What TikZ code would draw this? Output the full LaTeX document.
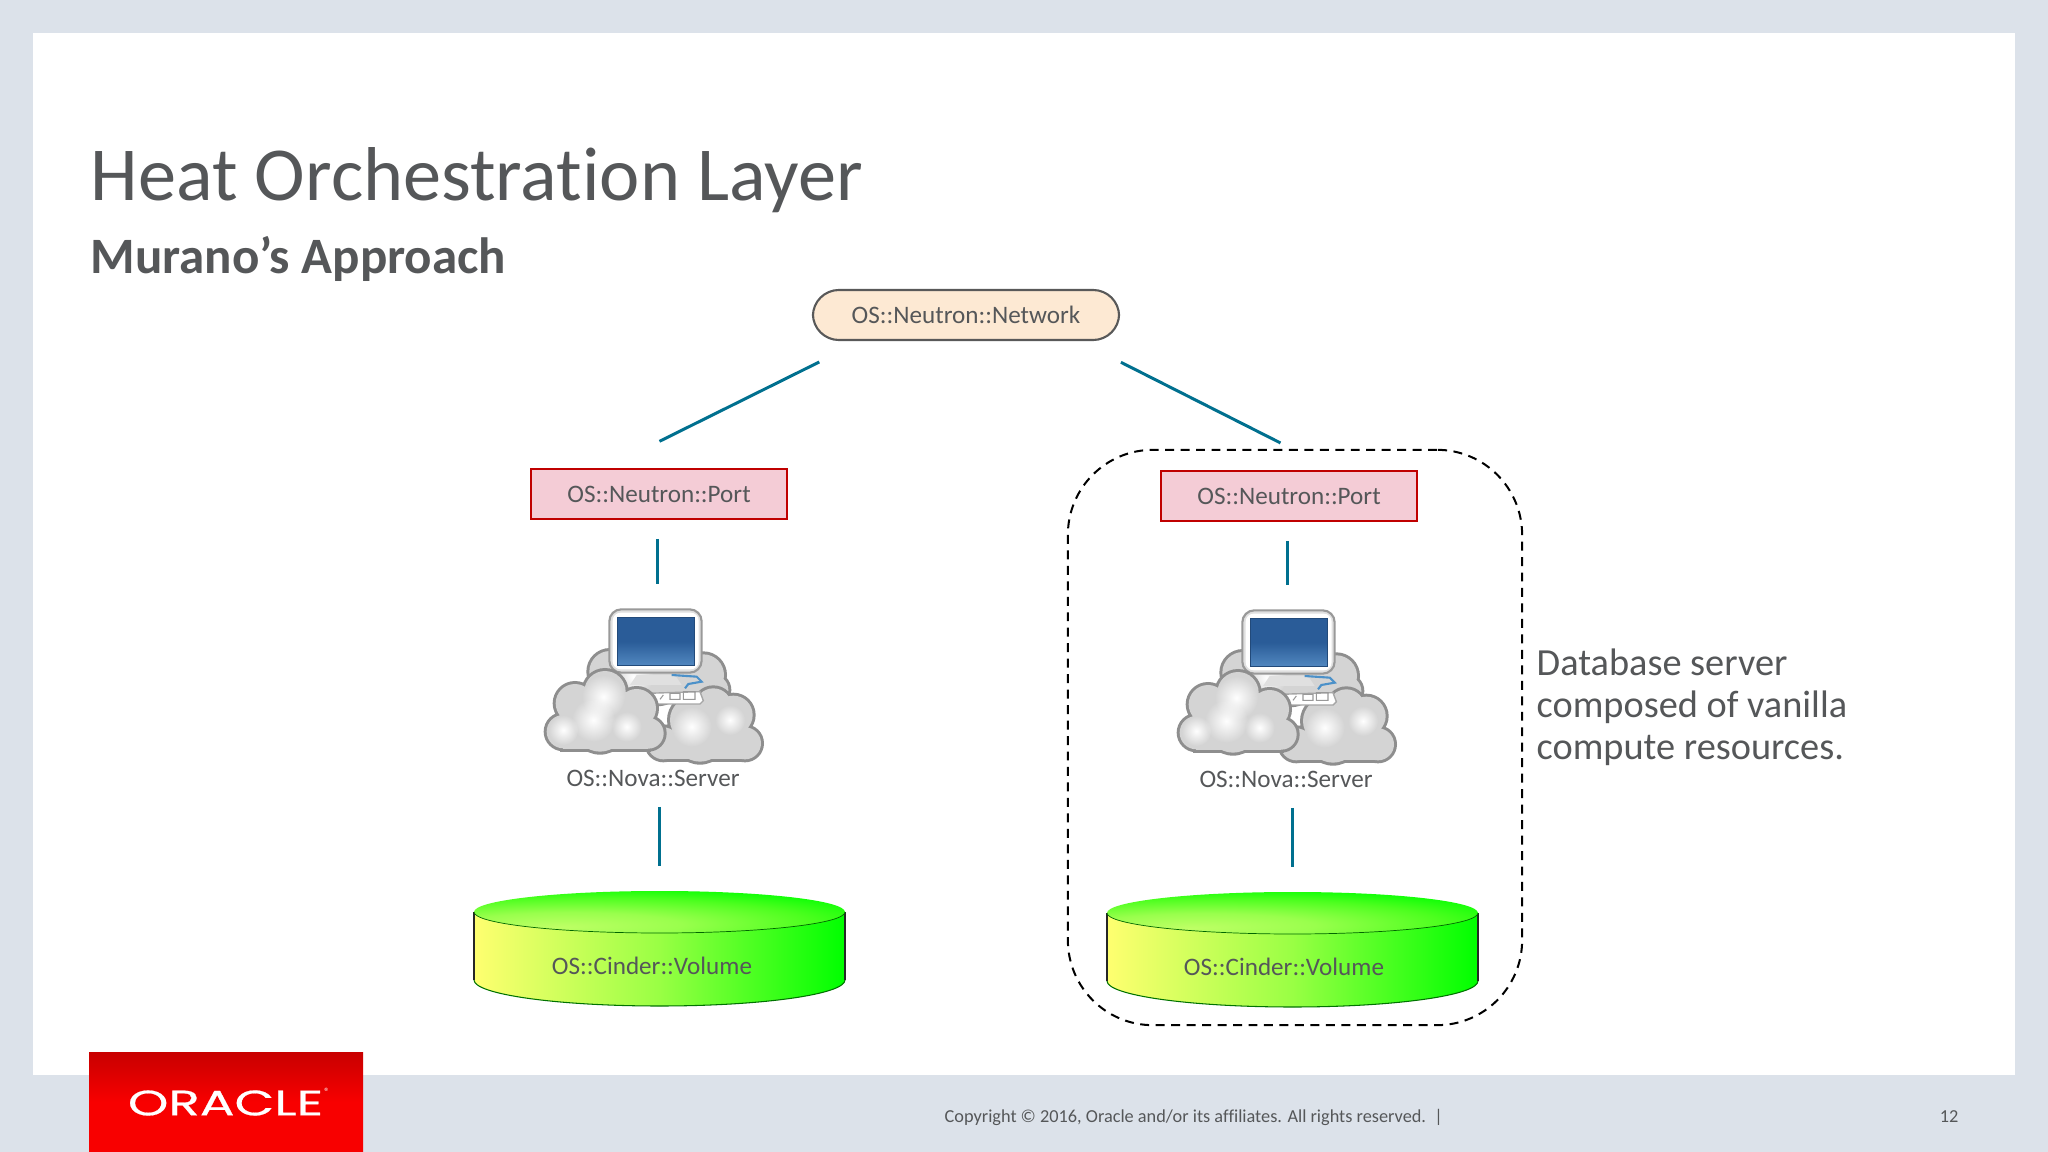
\documentclass[tikz,border=0pt]{standalone}
\usepackage{fontspec}
\setmainfont[Ligatures=NoCommon]{Carlito}
\newfontfamily\logofont[FakeBold=0.5]{Poppins}
\usepackage{graphicx}
\usetikzlibrary{fadings}
\definecolor{slidebg}{HTML}{DCE2EA}
\definecolor{inktext}{HTML}{555759}
\definecolor{linkteal}{HTML}{00708F}
\definecolor{cloudedge}{HTML}{8E8E8E}
\definecolor{cloudbase}{HTML}{D4D4D4}
\definecolor{netfill}{HTML}{FDE9D3}
\definecolor{portfill}{HTML}{F4CCD6}
\definecolor{portline}{HTML}{C00000}
\definecolor{screentop}{HTML}{2A5C98}
\definecolor{screenlow}{HTML}{5288C0}
\definecolor{sidemid}{HTML}{99FF44}
\definecolor{sideleft}{HTML}{FFFF70}
\definecolor{logotop}{HTML}{C80000}
\definecolor{logolow}{HTML}{F80000}
\pgfdeclareradialshading{diskglow}{\pgfpoint{-14bp}{-18bp}}{rgb(0bp)=(.75,1,.4); rgb(15bp)=(.6,1,.3); rgb(30bp)=(.3,1,.12); rgb(42bp)=(0,1,0); rgb(100bp)=(0,1,0)}
\tikzfading[name=pufffade,inner color=transparent!0,outer color=transparent!100]
\tikzset{
  link/.style={linkteal,line width=0.85pt},
  label/.style={text=inktext,font=\fontsize{7.15}{9}\selectfont,inner sep=0pt},
  netbox/.style={draw=black!65,line width=0.6pt,fill=netfill,rounded corners=0.26cm,minimum width=3.06cm,minimum height=0.5cm,label},
  portbox/.style={draw=portline,line width=0.55pt,fill=portfill,minimum width=2.56cm,minimum height=0.5cm,label},
  pics/disk/.style={code={
      \shade[left color=sideleft,right color=green,middle color=sidemid]
        (-185.5,0) -- (-185.5,68) arc[start angle=180,end angle=0,x radius=185.5,y radius=26] -- (185.5,0) -- cycle;
      \draw[black!85,line width=0.45pt] (-185.5,0) -- (-185.5,68) (185.5,0) -- (185.5,68);
      \draw[green!45!black,line width=0.3pt] (-185.5,68) arc[start angle=180,end angle=0,x radius=185.5,y radius=26];
      \shade[shading=diskglow] (0,0) ellipse[x radius=185.5,y radius=21];
      \draw[green!40!black,line width=0.2pt] (-185.5,0) arc[start angle=180,end angle=0,x radius=185.5,y radius=21];
      \coordinate (-top) at (0,-21);
  }},
  pics/server/.style={code={
      \begin{scope}[scale=1/3]
        \puffs{330}{230}{640}{340}{330/275/62,470/280/90,610/285/62,640/330/45}{400/290/60}
        \puffs{490}{450}{735}{538}{580/420/70,640/380/55,700/405/58,735/490/48,490/490/48,600/470/75}{575/440/60,690/420/45}
        \fill[white,draw=black!35,line width=0.4pt] (440,340) -- (600,335) -- (610,362) -- (600,372) -- (470,372) -- cycle;
        \draw[black!40,line width=0.3pt] (490,345) -- (480,358) (510,340) rectangle (540,358) (550,335) rectangle (585,358);
        \fill[black!12] (410,285) -- (525,285) -- (545,315) -- (390,315) -- cycle;
        \draw[blue!45!cyan!70!black!70,line width=0.6pt] (515,285) -- (590,290) -- (605,305) -- (565,312) -- (555,325);
        \fill[black!12,draw=black!40,line width=0.6pt,rounded corners=1.2mm] (328,88) rectangle (605,278);
        \fill[white,rounded corners=0.8mm] (338,98) rectangle (596,268);
        \shade[top color=screentop,bottom color=screenlow,middle color=screentop,draw=screentop!80!black,line width=0.3pt] (352,112) rectangle (584,257);
        \puffs{190}{430}{445}{506}{190/455/50,225/370/58,315/335/62,410/385/58,445/460/46,300/440/75}{310/350/65,280/420/65,380/440/45,190/450/45}
      \end{scope}
      \coordinate (-top) at (157,29);
  }}
}
\newcommand{\puffs}[6]{%
  \fill[cloudedge] (#1-9,#2) rectangle (#3+9,#4+9);
  \fill[cloudedge] foreach \a/\b/\r in {#5} {(\a,\b) circle[radius=\r+9]};
  \fill[cloudbase] (#1,#2) rectangle (#3,#4);
  \fill[cloudbase] foreach \a/\b/\r in {#5} {(\a,\b) circle[radius=\r]};
  \foreach \a/\b/\r in {#6} {\fill[white,path fading=pufffade] (\a,\b) circle[radius=\r];}
}
\begin{document}
\begin{tikzpicture}[x=0.01cm,y=-0.01cm]
  \useasboundingbox (0,0) rectangle (2048,1152);
  \fill[slidebg] (0,0) rectangle (2048,1152);
  \fill[white] (33,33) rectangle (2015,1075);

  \node[anchor=west,text=inktext,font=\fontsize{21.7}{26}\selectfont,inner sep=0pt] (title) at (90,180) {Heat Orchestration Layer};
  \node[anchor=west,text=inktext,font=\fontsize{14.5}{17}\selectfont\bfseries,inner sep=0pt] (subtitle) at (90,259) {Murano’s Approach};

  \node[netbox] (network) at (966,315) {OS::Neutron::Network};
  \node[portbox] (portL) at (659,494) {OS::Neutron::Port};
  \node[portbox] (portR) at (1289,496) {OS::Neutron::Port};

  \pic (serverL) at (500,580) {server};
  \pic (serverR) at (1133,581) {server};
  \node[label] (novaL) at (653,778) {OS::Nova::Server};
  \node[label] (novaR) at (1286,779) {OS::Nova::Server};

  \pic (volL) at (659.5,912) {disk};
  \pic (volR) at (1292.5,913) {disk};
  \node[label] (textL) at (652,966) {OS::Cinder::Volume};
  \node[label] (textR) at (1284,967) {OS::Cinder::Volume};

  \draw[link,shorten <=0.47cm,shorten >=0.6cm] (network.194) -- (portL.154);
  \draw[link,shorten <=0.47cm,shorten >=0.6cm] (network.347) -- (portR.30);
  \draw[link,shorten <=0.19cm,shorten >=0.25cm] ([xshift=-0.02cm]portL.south) -- ([xshift=-0.02cm]portL.south |- serverL-top);
  \draw[link,shorten <=0.19cm,shorten >=0.25cm] ([xshift=-0.02cm]portR.south) -- ([xshift=-0.02cm]portR.south |- serverR-top);
  \draw[link,shorten <=0.2cm,shorten >=0.25cm] (volL-top |- novaL.south) -- (volL-top);
  \draw[link,shorten <=0.2cm,shorten >=0.25cm] (volR-top |- novaR.south) -- (volR-top);

  \node[draw=black,dash pattern=on 2.55pt off 1.85pt,line width=0.57pt,rounded corners=0.85cm,minimum width=4.54cm,minimum height=5.75cm] (dbgroup) at (1295,737.5) {};
  \node[anchor=west,align=left,text=inktext,font=\fontsize{10.9}{11.9}\selectfont,inner sep=0pt] (dbnote) at (1536,707) {Database server\\composed of vanilla\\compute resources.};

  \shade[top color=logotop,bottom color=logolow,middle color=logolow] (89,1052) rectangle (363,1152);
  \node[text=white,inner sep=0pt] (logo) at (225.5,1103) {\resizebox{1.95cm}{0.25cm}{\logofont ORACLE}};
  \node[text=white,inner sep=0pt,font=\fontsize{3}{3}\selectfont] (logomark) at (327,1092) {®};

  \node[anchor=west,text=inktext,font=\fontsize{5.2}{6.5}\selectfont,inner sep=0pt] (copyright) at (944,1117) {Copyright © 2016, Oracle and/or its affiliates. All rights reserved.~~|};
  \node[text=inktext,font=\fontsize{5.2}{6.5}\selectfont,inner sep=0pt] (pagenum) at (1949,1117) {12};
\end{tikzpicture}
\end{document}
